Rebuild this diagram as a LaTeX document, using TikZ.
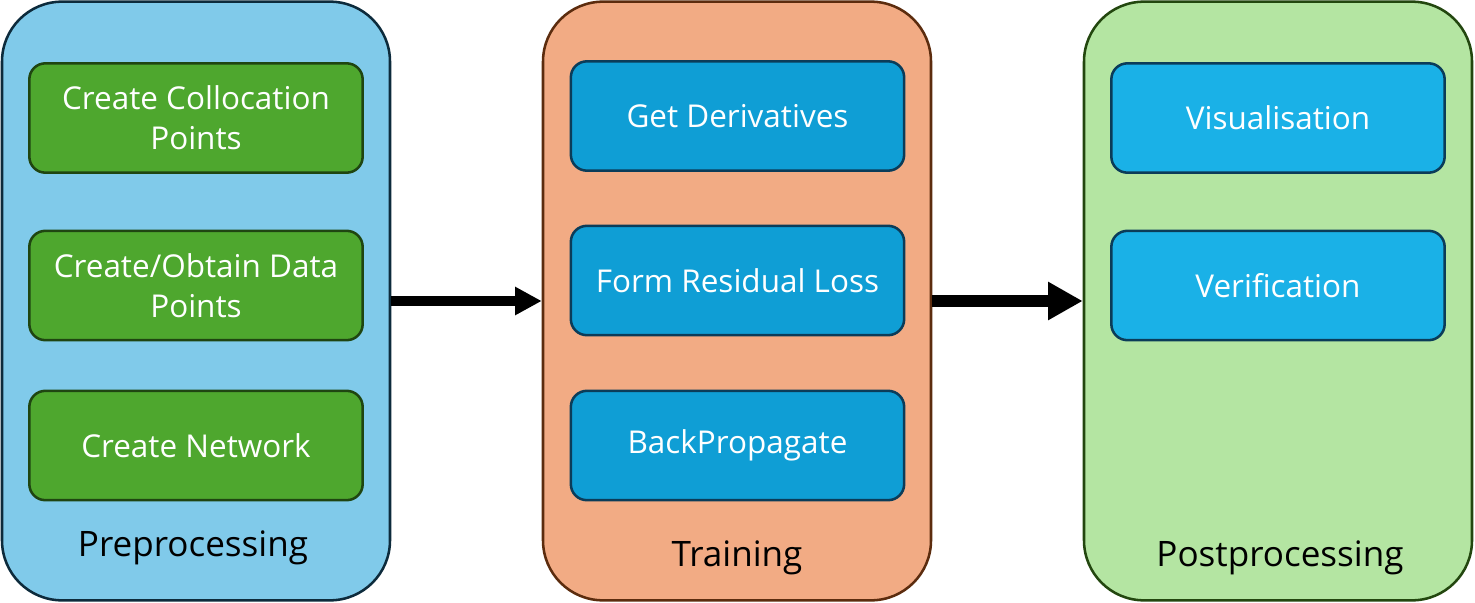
\documentclass[tikz,border=0pt]{standalone}
\usepackage{fontspec}
\setmainfont{Open Sans}
\usetikzlibrary{arrows.meta}

\definecolor{prepfill}{HTML}{80CAEA}
\definecolor{prepdraw}{HTML}{0D2B3C}
\definecolor{trainfill}{HTML}{F2AB84}
\definecolor{traindraw}{HTML}{5C2C0E}
\definecolor{postfill}{HTML}{B4E5A2}
\definecolor{postdraw}{HTML}{23470F}
\definecolor{greentask}{HTML}{4EA72E}
\definecolor{greendraw}{HTML}{1F4511}
\definecolor{bluetask}{HTML}{0F9ED5}
\definecolor{lightblue}{HTML}{1AB1E7}
\definecolor{bluedraw}{HTML}{0B3C59}

\tikzset{
  stage/.style={rounded corners=45pt,line width=1.9pt,minimum width=291pt,minimum height=449pt},
  task/.style={rounded corners=12pt,line width=1.9pt,minimum width=250pt,minimum height=82pt,
    text=white,align=center,font=\fontsize{23.6}{30}\selectfont},
  stagelabel/.style={anchor=base,font=\fontsize{26.3}{30}\selectfont},
}

\begin{document}
\begin{tikzpicture}[x=0.75pt,y=-0.75pt]
  \useasboundingbox (0,0) rectangle (1475,603);
  % stages
  \node[stage,fill=prepfill,draw=prepdraw]   (prep)  at (196,301)  {};
  \node[stage,fill=trainfill,draw=traindraw] (train) at (737,301)  {};
  \node[stage,fill=postfill,draw=postdraw]   (post)  at (1278,301) {};
  % preprocessing
  \node[task,fill=greentask,draw=greendraw] (colloc)  at (196,118)   {Create Collocation\\Points};
  \node[task,fill=greentask,draw=greendraw] (datapts) at (196,285.5) {Create/Obtain Data\\Points};
  \node[task,fill=greentask,draw=greendraw] (network) at (196,445.5) {Create Network};
  \node[stagelabel] (preplabel) at (193,556) {Preprocessing};
  % training
  \node[task,fill=bluetask,draw=bluedraw] (deriv)    at (737.5,116)   {Get Derivatives};
  \node[task,fill=bluetask,draw=bluedraw] (residual) at (737.5,280.5) {Form Residual Loss};
  \node[task,fill=bluetask,draw=bluedraw] (backprop) at (737.5,445.5) {BackPropagate};
  \node[stagelabel] (trainlabel) at (737,566) {Training};
  % postprocessing
  \node[task,fill=lightblue,draw=bluedraw] (visual) at (1278,118)   {Visualisation};
  \node[task,fill=lightblue,draw=bluedraw] (verif)  at (1278,285.5) {Verification};
  \node[stagelabel] (postlabel) at (1280,566) {Postprocessing};
  % arrows
  \draw[line width=6.8pt,-{Triangle[length=20pt,width=20pt]}] (prep.east) -- (train.west);
  \draw[line width=9pt,-{Triangle[length=26pt,width=27pt]}] (train.east) -- (post.west);
\end{tikzpicture}
\end{document}
